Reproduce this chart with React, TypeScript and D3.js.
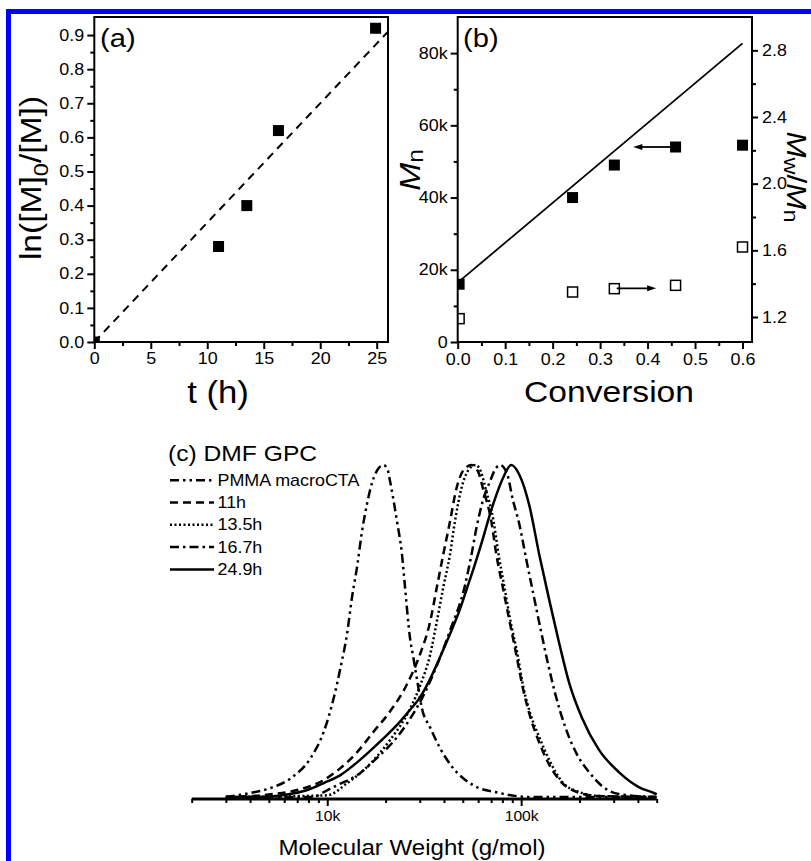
import React, { useEffect, useRef } from 'react';
import * as d3 from 'd3';

// (a) kinetics
const timeH = [0, 11, 13.5, 16.3, 24.9];
const lnM0M = [0, 0.28, 0.4, 0.62, 0.92];
const fitTimeH = [0, 26];
const fitLnM0M = [0, 0.91];
const aTicksX = [0, 5, 10, 15, 20, 25];
const aMinorX = [2.5, 7.5, 12.5, 17.5, 22.5];
const aTicksY = [0, 0.1, 0.2, 0.3, 0.4, 0.5, 0.6, 0.7, 0.8, 0.9];
const aMinorY = [0.05, 0.15, 0.25, 0.35, 0.45, 0.55, 0.65, 0.75, 0.85];

// (b) Mn and Mw/Mn vs conversion
const conversion = [0.003, 0.242, 0.33, 0.459, 0.6];
const mnValues = [16000, 40000, 49000, 54000, 54500];
const pdiValues = [1.19, 1.35, 1.37, 1.39, 1.62];
const theoConversion = [0.005, 0.6];
const theoMn = [17000, 82700];
const mnArrowX = [0.448, 0.37];
const mnArrowY = 54000;
const pdiArrowX = [0.335, 0.418];
const pdiArrowY = 1.372;
const bTicksX = [0, 0.1, 0.2, 0.3, 0.4, 0.5, 0.6];
const bMinorX = [0.05, 0.15, 0.25, 0.35, 0.45, 0.55];
const bTicksY = [0, 20000, 40000, 60000, 80000];
const bMinorY = [10000, 30000, 50000, 70000];
const bTicksY2 = [1.2, 1.6, 2.0, 2.4, 2.8];
const bMinorY2 = [1.4, 1.8, 2.2, 2.6];

// (c) GPC traces, [molecular weight, normalised signal]
const gpcMacroCTA = [
  [3000, 0], [4000, 0.012], [5100, 0.027], [6500, 0.057], [8200, 0.117], [9600, 0.197],
  [10800, 0.298], [11700, 0.389], [12700, 0.498], [13400, 0.599], [14300, 0.699],
  [15100, 0.799], [16000, 0.88], [17100, 0.95], [18400, 0.99], [19500, 1.0], [20500, 0.985],
  [21100, 0.95], [22900, 0.83], [24300, 0.73], [25200, 0.63], [26700, 0.48], [27800, 0.42],
  [29500, 0.33], [30700, 0.27], [33900, 0.21], [38100, 0.148], [44600, 0.087],
  [56400, 0.036], [77400, 0.012], [110000, 0], [500000, 0],
];
const gpc11h = [
  [3000, 0], [4700, 0.006], [7000, 0.021], [9600, 0.051], [11700, 0.087], [14300, 0.136],
  [17300, 0.196], [21100, 0.258], [25700, 0.338], [30100, 0.43], [33900, 0.527], [36700, 0.63],
  [39600, 0.729], [42900, 0.828], [46400, 0.93], [50500, 0.985], [55500, 1.0], [60000, 0.98],
  [63500, 0.93], [70200, 0.83], [74500, 0.73], [80500, 0.63], [87100, 0.53], [94300, 0.43],
  [101900, 0.33], [110300, 0.25], [121000, 0.18], [136000, 0.11], [161000, 0.045],
  [194000, 0.015], [246000, 0.003], [500000, 0],
];
const gpc13h = [
  [3000, 0], [10000, 0.005], [12700, 0.042], [16000, 0.09], [21100, 0.172], [26700, 0.265],
  [30100, 0.335], [33900, 0.428], [36700, 0.527], [39600, 0.63], [42900, 0.729],
  [45500, 0.828], [49200, 0.93], [53500, 0.985], [58200, 1.0], [62000, 0.98], [65500, 0.93],
  [72100, 0.83], [76500, 0.73], [82100, 0.63], [88100, 0.53], [95700, 0.43], [102700, 0.33],
  [111600, 0.25], [124000, 0.18], [140000, 0.11], [163000, 0.045], [199000, 0.015],
  [252000, 0.003], [500000, 0],
];
const gpc16h = [
  [3000, 0], [8500, 0], [9600, 0.015], [11300, 0.036], [14300, 0.066], [18000, 0.117],
  [22900, 0.18], [26700, 0.235], [31300, 0.305], [36700, 0.395], [42900, 0.5],
  [51200, 0.635], [55400, 0.729], [58800, 0.81], [64000, 0.9], [69000, 0.95], [74000, 0.99],
  [78000, 1.0], [85000, 0.97], [90200, 0.9], [98000, 0.82], [106400, 0.714], [115600, 0.611],
  [125600, 0.509], [136500, 0.41], [150000, 0.31], [169000, 0.21], [194500, 0.127],
  [224000, 0.075], [261000, 0.033], [319000, 0.009], [500000, 0],
];
const gpc24h = [
  [3000, 0], [4400, 0], [6000, 0.006], [7900, 0.021], [9600, 0.042], [11700, 0.066],
  [14300, 0.105], [17300, 0.148], [21100, 0.196], [23800, 0.228], [26700, 0.262],
  [30100, 0.3], [33900, 0.355], [38100, 0.42], [42900, 0.49], [48300, 0.565],
  [52300, 0.625], [57700, 0.7], [63600, 0.78], [68900, 0.85], [74500, 0.91],
  [80500, 0.96], [88900, 1.0], [98000, 0.97], [110000, 0.88], [124000, 0.73], [140000, 0.59],
  [157000, 0.464], [177000, 0.343], [206000, 0.238], [252000, 0.142], [319000, 0.075],
  [404000, 0.03], [483000, 0.012], [500000, 0.008],
];
const gpcNames = ['PMMA macroCTA', '11h', '13.5h', '16.7h', '24.9h'];
const cMajor = [10000, 100000];
const cMajorLabels = ['10k', '100k'];
const cMinor = [2000, 3000, 4000, 5000, 6000, 7000, 8000, 9000, 20000, 30000, 40000, 50000,
  60000, 70000, 80000, 90000, 200000, 300000, 400000, 500000];

const FONT = '"Liberation Sans", Arial, Helvetica, sans-serif';
const SX = 1.12; // the figure's type is set a little wide

const App = () => {
  const ref = useRef<SVGSVGElement>(null);

  useEffect(() => {
    const svg = d3.select(ref.current);
    svg.selectAll('*').remove();

    const label = (g: any, x: number, y: number, str: string, size: number, anchor = 'start', rot = 0) =>
      g.append('text')
        .attr('transform', `translate(${x},${y}) rotate(${rot}) scale(${SX},1)`)
        .attr('font-family', FONT).attr('font-size', size)
        .attr('text-anchor', anchor).attr('fill', '#000')
        .text(str);

    const drawAxis = (g: any, side: string, scale: any, major: number[], minor: number[],
      fmt: any, pos: number, size: number, pad: number, majLen = 7) => {
      const gen = side === 'bottom' ? d3.axisBottom : side === 'left' ? d3.axisLeft : d3.axisRight;
      const tr = side === 'bottom' ? `translate(0,${pos})` : `translate(${pos},0)`;
      const mn = g.append('g').attr('transform', tr)
        .call(gen(scale).tickValues(minor).tickSize(4).tickFormat(() => ''));
      const mj = g.append('g').attr('transform', tr)
        .call(gen(scale).tickValues(major).tickSize(majLen).tickPadding(pad).tickFormat(fmt));
      [mn, mj].forEach((s) => {
        s.select('.domain').remove();
        s.selectAll('line').attr('stroke', '#000').attr('stroke-width', 2);
      });
      mj.selectAll('text')
        .attr('font-family', FONT).attr('font-size', size).attr('fill', '#000')
        .attr('transform', `scale(${SX},1)`);
    };

    // blue frame of the figure
    svg.append('rect').attr('x', 6).attr('y', 9).attr('width', 805).attr('height', 5).attr('fill', '#0000ff');
    svg.append('rect').attr('x', 6).attr('y', 9).attr('width', 5).attr('height', 852).attr('fill', '#0000ff');

    const defs = svg.append('defs');

    // ---------------- (a) ----------------
    const xA = d3.scaleLinear().domain([0, 26]).range([94.3, 388]);
    const yA = d3.scaleLinear().domain([0, 0.953]).range([342, 17]);
    const gA = svg.append('g');
    defs.append('clipPath').attr('id', 'clipA').append('rect')
      .attr('x', xA(0)).attr('y', yA(0.953)).attr('width', xA(26) - xA(0)).attr('height', yA(0) - yA(0.953));

    gA.append('path')
      .datum(fitTimeH.map((t, i) => [t, fitLnM0M[i]]))
      .attr('d', d3.line().x((d: any) => xA(d[0])).y((d: any) => yA(d[1])) as any)
      .attr('fill', 'none').attr('stroke', '#000').attr('stroke-width', 2)
      .attr('stroke-dasharray', '8,6').attr('clip-path', 'url(#clipA)');

    gA.append('g').attr('clip-path', 'url(#clipA)')
      .selectAll('rect').data(timeH).join('rect')
      .attr('x', (d: number) => xA(d) - 5.5)
      .attr('y', (_: number, i: number) => yA(lnM0M[i]) - 5.5)
      .attr('width', 11).attr('height', 11).attr('fill', '#000');

    gA.append('rect').attr('x', xA(0)).attr('y', yA(0.953))
      .attr('width', xA(26) - xA(0)).attr('height', yA(0) - yA(0.953))
      .attr('fill', 'none').attr('stroke', '#000').attr('stroke-width', 2);

    drawAxis(gA, 'bottom', xA, aTicksX, aMinorX, d3.format('d'), 342, 16, 4);
    drawAxis(gA, 'left', yA, aTicksY, aMinorY, d3.format('.1f'), 94.3, 16, 2);

    label(gA, 100, 46.5, '(a)', 26);
    label(gA, 218, 403, 't (h)', 31, 'middle');
    const yTitleA = gA.append('text')
      .attr('transform', `translate(41,178) rotate(-90) scale(${SX},1)`)
      .attr('font-family', FONT).attr('font-size', 30).attr('text-anchor', 'middle').attr('fill', '#000');
    yTitleA.append('tspan').text('ln([M]');
    yTitleA.append('tspan').attr('font-size', 21).attr('dy', 7).text('0');
    yTitleA.append('tspan').attr('dy', -7).text('/[M])');

    // ---------------- (b) ----------------
    const xB = d3.scaleLinear().domain([0, 0.62]).range([457.7, 752]);
    const yB = d3.scaleLinear().domain([0, 90000]).range([342, 17]);
    const yB2 = d3.scaleLinear().domain([1.05, 3.0]).range([342, 17]);
    const gB = svg.append('g');
    defs.append('clipPath').attr('id', 'clipB').append('rect')
      .attr('x', xB(0)).attr('y', yB(90000)).attr('width', xB(0.62) - xB(0)).attr('height', yB(0) - yB(90000));

    gB.append('path')
      .datum(theoConversion.map((c, i) => [c, theoMn[i]]))
      .attr('d', d3.line().x((d: any) => xB(d[0])).y((d: any) => yB(d[1])) as any)
      .attr('fill', 'none').attr('stroke', '#000').attr('stroke-width', 1.8);

    const pts = gB.append('g').attr('clip-path', 'url(#clipB)');
    pts.selectAll('rect.mn').data(conversion).join('rect').attr('class', 'mn')
      .attr('x', (d: number) => xB(d) - 5.5)
      .attr('y', (_: number, i: number) => yB(mnValues[i]) - 5.5)
      .attr('width', 11).attr('height', 11).attr('fill', '#000');
    pts.selectAll('rect.pdi').data(conversion).join('rect').attr('class', 'pdi')
      .attr('x', (d: number) => xB(d) - 5)
      .attr('y', (_: number, i: number) => yB2(pdiValues[i]) - 5)
      .attr('width', 10).attr('height', 10)
      .attr('fill', '#fff').attr('stroke', '#000').attr('stroke-width', 1.5);

    const arrow = (x0: number, x1: number, y: number) => {
      const dir = Math.sign(x1 - x0);
      gB.append('line').attr('x1', x0).attr('x2', x1 - dir * 6).attr('y1', y).attr('y2', y)
        .attr('stroke', '#000').attr('stroke-width', 1.8);
      gB.append('path')
        .attr('d', `M${x1},${y} L${x1 - dir * 9},${y - 3} L${x1 - dir * 9},${y + 3} Z`)
        .attr('fill', '#000');
    };
    arrow(xB(mnArrowX[0]), xB(mnArrowX[1]), yB(mnArrowY));
    arrow(xB(pdiArrowX[0]), xB(pdiArrowX[1]), yB2(pdiArrowY));

    gB.append('rect').attr('x', xB(0)).attr('y', yB(90000))
      .attr('width', xB(0.62) - xB(0)).attr('height', yB(0) - yB(90000))
      .attr('fill', 'none').attr('stroke', '#000').attr('stroke-width', 2);

    drawAxis(gB, 'bottom', xB, bTicksX, bMinorX, d3.format('.1f'), 342, 16, 4.5);
    drawAxis(gB, 'left', yB, bTicksY, bMinorY, (d: number) => (d === 0 ? '0' : `${d / 1000}k`), 457.7, 16, 2);
    drawAxis(gB, 'right', yB2, bTicksY2, bMinorY2, d3.format('.1f'), 752, 16, 3, 6);

    label(gB, 463, 46.5, '(b)', 26);
    label(gB, 609, 401.5, 'Conversion', 30, 'middle');
    const mnTitle = gB.append('text')
      .attr('transform', `translate(420,170) rotate(-90) scale(${SX},1)`)
      .attr('font-family', FONT).attr('font-size', 30).attr('text-anchor', 'middle').attr('fill', '#000');
    mnTitle.append('tspan').attr('font-style', 'italic').text('M');
    mnTitle.append('tspan').attr('font-size', 22).attr('dy', 3).text('n');
    const pdiTitle = gB.append('text')
      .attr('transform', `translate(787,177) rotate(90) scale(${SX},1)`)
      .attr('font-family', FONT).attr('font-size', 28).attr('text-anchor', 'middle').attr('fill', '#000');
    pdiTitle.append('tspan').attr('font-style', 'italic').text('M');
    pdiTitle.append('tspan').attr('font-size', 21).attr('dy', 3).text('w');
    pdiTitle.append('tspan').attr('dy', -3).text('/');
    pdiTitle.append('tspan').attr('font-style', 'italic').text('M');
    pdiTitle.append('tspan').attr('font-size', 21).attr('dy', 3).text('n');

    // ---------------- (c) ----------------
    const xC = d3.scaleLog().domain([2000, 500000]).range([191.7, 656.7]);
    const yC = d3.scaleLinear().domain([0, 1]).range([797, 465]);
    const gC = svg.append('g');
    const traces = [gpcMacroCTA, gpc11h, gpc13h, gpc16h, gpc24h];
    const dashes = ['9,4,2.5,4,2.5,4', '8,5', '2,2.5', '9,4,2.5,4', null];
    const curve = d3.line()
      .x((d: any) => xC(d[0])).y((d: any) => yC(d[1]))
      .curve(d3.curveMonotoneX);

    gC.append('line').attr('x1', xC(2000)).attr('x2', xC(500000))
      .attr('y1', 799).attr('y2', 799).attr('stroke', '#000').attr('stroke-width', 3);
    drawAxis(gC, 'bottom', xC, cMajor, cMinor, (_: any, i: number) => cMajorLabels[i], 799, 14, 5.5);

    traces.forEach((tr, i) => {
      gC.append('path').datum(tr).attr('d', curve as any)
        .attr('fill', 'none').attr('stroke', '#000').attr('stroke-width', 2.5)
        .attr('stroke-dasharray', dashes[i]);
    });

    label(gC, 168, 461, '(c) DMF GPC', 22);
    gpcNames.forEach((name, i) => {
      const yb = 485.7 + i * 22.3;
      gC.append('line').attr('x1', 170).attr('x2', 214).attr('y1', yb - 5.5).attr('y2', yb - 5.5)
        .attr('stroke', '#000').attr('stroke-width', 2.5).attr('stroke-dasharray', dashes[i]);
      label(gC, 217.5, yb, name, 16);
    });

    label(gC, 412, 855, 'Molecular Weight (g/mol)', 21.5, 'middle');
  }, []);

  return (
    <svg
      ref={ref}
      width={811}
      height={861}
      style={{ position: 'absolute', left: 0, top: 0, background: '#fff' }}
    />
  );
};

export default App;
